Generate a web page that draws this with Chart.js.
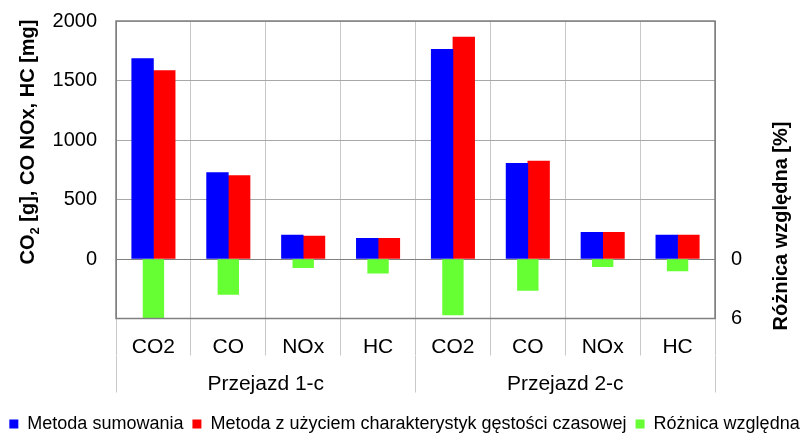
<!DOCTYPE html>
<html>
<head>
<meta charset="utf-8">
<script src="https://cdn.jsdelivr.net/npm/chart.js@4"></script>
<style>
  html, body { margin: 0; padding: 0; background: #fff; }
  #wrap { width: 809px; height: 435px; }
</style>
</head>
<body>
<div id="wrap"><canvas id="wykres"></canvas></div>
<script>
// Dane
const kategorie = ['CO2', 'CO', 'NOx', 'HC', 'CO2', 'CO', 'NOx', 'HC'];
const przejazdy = ['Przejazd 1-c', 'Przejazd 2-c'];
const metodaSumowania = [1684, 727, 201, 174, 1762, 803, 224, 201];
const metodaGestosci = [1583, 702, 193, 173, 1865, 822, 224, 201];
const roznicaWzgledna = [6.0, 3.56, 0.87, 1.44, 5.64, 3.16, 0.77, 1.21];
const etykietyPrawe = [0, 6];

const czcionka = "'Liberation Sans', Arial, sans-serif";

// Ramka wokół obszaru wykresu + tytuły osi
const ramka = {
  id: 'ramka',
  afterDatasetsDraw(chart) {
    const { ctx, chartArea: a } = chart;
    ctx.save();
    ctx.strokeStyle = '#808080';
    ctx.lineWidth = 1.5;
    ctx.strokeRect(a.left, a.top, a.right - a.left, a.bottom - a.top);
    ctx.restore();
  },
  afterDraw(chart) {
    const { ctx } = chart;
    ctx.save();
    ctx.fillStyle = '#000';
    ctx.textBaseline = 'alphabetic';
    ctx.textAlign = 'left';

    // lewy tytuł z indeksem dolnym
    const duza = 'bold 20px ' + czcionka;
    const mala = 'bold 13px ' + czcionka;
    const czesci = [['CO', duza, 0], ['2', mala, 5], [' [g], CO NOx, HC [mg]', duza, 0]];
    let szer = 0;
    czesci.forEach(([t, f]) => { ctx.font = f; szer += ctx.measureText(t).width; });
    ctx.translate(34, 142);
    ctx.rotate(-Math.PI / 2);
    let x = -szer / 2;
    czesci.forEach(([t, f, dy]) => {
      ctx.font = f;
      ctx.fillText(t, x, dy);
      x += ctx.measureText(t).width;
    });
    ctx.restore();

    // prawy tytuł
    ctx.save();
    ctx.font = 'bold 20px ' + czcionka;
    ctx.fillStyle = '#000';
    ctx.textAlign = 'center';
    ctx.textBaseline = 'middle';
    ctx.translate(781, 226);
    ctx.rotate(-Math.PI / 2);
    ctx.fillText('Różnica względna [%]', 0, 0);
    ctx.restore();
  }
};

// bez dodatkowego marginesu od etykiet osi pionowych
function bezMarginesu(s) {
  s.paddingTop = 0;
  s.paddingBottom = 0;
}

const ctx = document.getElementById('wykres').getContext('2d');
new Chart(ctx, {
  type: 'bar',
  data: {
    labels: kategorie,
    datasets: [
      {
        label: 'Metoda sumowania',
        data: metodaSumowania,
        backgroundColor: '#0000FF',
        yAxisID: 'y',
        barThickness: 21.7
      },
      {
        label: 'Metoda z użyciem charakterystyk gęstości czasowej',
        data: metodaGestosci,
        backgroundColor: '#FF0000',
        yAxisID: 'y',
        barThickness: 21.7
      },
      {
        label: 'Różnica względna',
        data: roznicaWzgledna,
        backgroundColor: '#66FF33',
        yAxisID: 'y1',
        grouped: false,
        barThickness: 20.7
      }
    ]
  },
  options: {
    responsive: true,
    maintainAspectRatio: false,
    animation: false,
    layout: { padding: { top: 21, left: 0, right: 0, bottom: -8 } },
    plugins: {
      tooltip: { enabled: false },
      legend: {
        position: 'bottom',
        labels: {
          boxWidth: 9,
          boxHeight: 9,
          padding: 9,
          color: '#000',
          font: { family: czcionka, size: 18 }
        }
      }
    },
    scales: {
      x: {
        position: 'bottom',
        offset: true,
        grid: { offset: true, color: '#c8c8c8', tickLength: 37, tickColor: '#c8c8c8' },
        border: { display: true, color: '#808080' },
        ticks: { color: '#000', padding: -21, maxRotation: 0, autoSkip: false, font: { family: czcionka, size: 21 } },
        afterFit(s) { s.height = 37; }
      },
      x2: {
        type: 'category',
        position: 'bottom',
        labels: przejazdy,
        offset: true,
        grid: { offset: true, drawOnChartArea: false, color: '#c8c8c8', tickLength: 37 },
        border: { display: false },
        ticks: { color: '#000', padding: -21, maxRotation: 0, font: { family: czcionka, size: 21 } },
        afterFit(s) { s.height = 50.5; }
      },
      y: {
        position: 'left',
        min: -500,
        max: 2000,
        ticks: {
          stepSize: 500,
          color: '#000',
          padding: 19,
          font: { family: czcionka, size: 20 },
          callback: (v) => (v < 0 ? '' : v)
        },
        grid: {
          drawTicks: false,
          color: (c) => (c.tick && c.tick.value === 0 ? '#808080' : '#a8a8a8')
        },
        border: { color: '#808080' },
        afterFit(s) { s.width = 116; bezMarginesu(s); }
      },
      y1: {
        position: 'right',
        reverse: true,
        min: -24,
        max: 6,
        ticks: {
          stepSize: 6,
          color: '#000',
          padding: 16,
          font: { family: czcionka, size: 20 },
          callback: (v) => (etykietyPrawe.includes(v) ? v : '')
        },
        grid: { drawOnChartArea: false, drawTicks: false },
        border: { color: '#808080' },
        afterFit(s) { s.width = 94; bezMarginesu(s); }
      }
    }
  },
  plugins: [ramka]
});
</script>
</body>
</html>
